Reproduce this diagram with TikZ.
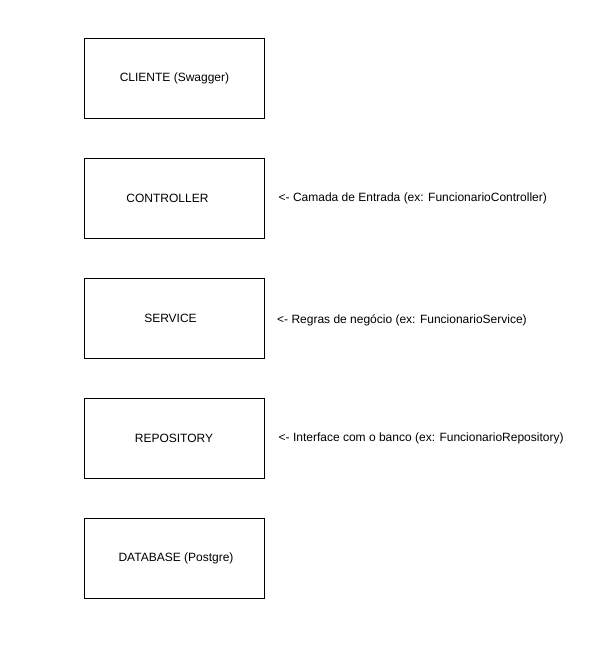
\documentclass[tikz,border=0pt]{standalone}
\usepackage{fontspec}
\setmainfont{Liberation Sans}
\usetikzlibrary{positioning}
\begin{document}
\begin{tikzpicture}[x=1pt, y=1pt, node distance=120pt,
    every node/.style={font=\fontsize{12}{14}\selectfont},
    layer/.style={draw, line width=1pt, minimum width=180pt, minimum height=80pt, inner sep=0pt},
    note/.style={anchor=west, inner sep=0pt}]
    \useasboundingbox (0,0) rectangle (614,-657);

    \node[layer] (cli) at (174,-78) {\hspace{1pt}CLIENTE (Swagger)};
    \node[layer, below of=cli] (ctrl) {\hspace{-13pt}CONTROLLER};
    \node[layer, below of=ctrl] (serv) {\hspace{-7pt}SERVICE};
    \node[layer, below of=serv] (repo) {REPOSITORY};
    \node[layer, below of=repo] (db) {\hspace{4pt}DATABASE (Postgre)};

    % notas das camadas
    \node[note, right=14pt of ctrl] (ctrlnote) {<- Camada de Entrada (ex: FuncionarioController)};
    \node[note, right=12.5pt of serv, yshift=-2.7pt] (servnote) {<- Regras de negócio (ex: FuncionarioService)};
    \node[note, right=14pt of repo] (reponote) {<- Interface com o banco (ex: FuncionarioRepository)};
\end{tikzpicture}
\end{document}
